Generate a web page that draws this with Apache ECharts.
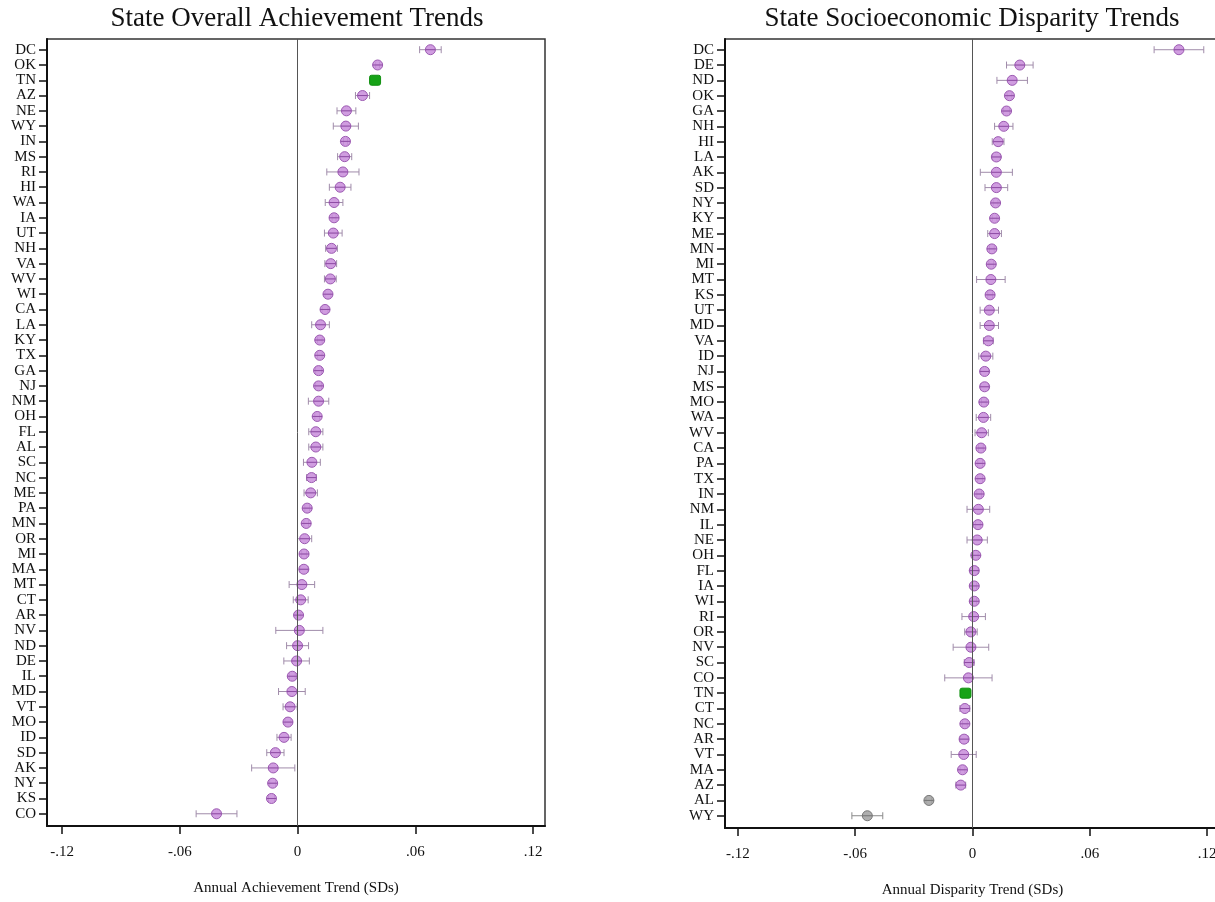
<!DOCTYPE html>
<html>
<head>
<meta charset="utf-8">
<script src="https://cdn.jsdelivr.net/npm/echarts@6/dist/echarts.min.js"></script>
<style>
html,body{margin:0;padding:0;background:#fff;overflow:hidden;}
#chart{width:1215px;height:902px;}
</style>
</head>
<body>
<div id="chart"></div>
<script>
// ---- Panel 1: State Overall Achievement Trends ----
const states1 = ['DC','OK','TN','AZ','NE','WY','IN','MS','RI','HI','WA','IA','UT','NH','VA','WV','WI','CA','LA','KY','TX','GA','NJ','NM','OH','FL','AL','SC','NC','ME','PA','MN','OR','MI','MA','MT','CT','AR','NV','ND','DE','IL','MD','VT','MO','ID','SD','AK','NY','KS','CO'];
const trend1 = [0.0677,0.0408,0.0395,0.0331,0.0249,0.0246,0.0244,0.0240,0.0231,0.0217,0.0186,0.0186,0.0182,0.0173,0.0169,0.0167,0.0155,0.0140,0.0117,0.0113,0.0113,0.0107,0.0107,0.0107,0.0100,0.0093,0.0093,0.0073,0.0071,0.0067,0.0049,0.0044,0.0036,0.0033,0.0032,0.0022,0.0016,0.0005,0.0009,0.0000,-0.0005,-0.0027,-0.0029,-0.0038,-0.0049,-0.0069,-0.0113,-0.0124,-0.0127,-0.0133,-0.0413];
const err1 = [0.0055,0.0010,0.0012,0.0036,0.0048,0.0064,0.0010,0.0036,0.0082,0.0055,0.0045,0.0010,0.0045,0.0030,0.0030,0.0030,0.0015,0.0015,0.0045,0.0012,0.0012,0.0015,0.0015,0.0052,0.0012,0.0036,0.0036,0.0043,0.0025,0.0034,0.0012,0.0012,0.0036,0.0012,0.0020,0.0065,0.0038,0.0012,0.0120,0.0056,0.0065,0.0015,0.0068,0.0036,0.0015,0.0036,0.0044,0.0110,0.0015,0.0015,0.0104];

// ---- Panel 2: State Socioeconomic Disparity Trends ----
const states2 = ['DC','DE','ND','OK','GA','NH','HI','LA','AK','SD','NY','KY','ME','MN','MI','MT','KS','UT','MD','VA','ID','NJ','MS','MO','WA','WV','CA','PA','TX','IN','NM','IL','NE','OH','FL','IA','WI','RI','OR','NV','SC','CO','TN','CT','NC','AR','VT','MA','AZ','AL','WY'];
const trend2 = [0.1056,0.0242,0.0203,0.0189,0.0174,0.0160,0.0131,0.0122,0.0122,0.0122,0.0118,0.0113,0.0113,0.0099,0.0096,0.0094,0.0090,0.0086,0.0086,0.0081,0.0068,0.0062,0.0062,0.0058,0.0056,0.0047,0.0043,0.0039,0.0039,0.0034,0.0030,0.0028,0.0024,0.0017,0.0009,0.0009,0.0009,0.0006,-0.0008,-0.0008,-0.0017,-0.0021,-0.0036,-0.0039,-0.0039,-0.0043,-0.0045,-0.0051,-0.0060,-0.0223,-0.0538];
const err2 = [0.0127,0.0068,0.0078,0.0012,0.0015,0.0047,0.0030,0.0020,0.0082,0.0058,0.0012,0.0012,0.0035,0.0012,0.0012,0.0073,0.0012,0.0047,0.0047,0.0025,0.0036,0.0020,0.0020,0.0012,0.0037,0.0034,0.0012,0.0012,0.0012,0.0012,0.0058,0.0012,0.0052,0.0012,0.0020,0.0012,0.0012,0.0060,0.0032,0.0091,0.0025,0.0121,0.0012,0.0025,0.0012,0.0020,0.0064,0.0012,0.0025,0.0015,0.0079];

const highlightStates = ['TN'];
const grayStates2 = ['AL','WY'];
const xTicks = [-0.12, -0.06, 0, 0.06, 0.12];
const xTickLabels = ['-.12', '-.06', '0', '.06', '.12'];
const titles = ['State Overall Achievement Trends', 'State Socioeconomic Disparity Trends'];
const xNames = ['Annual Achievement Trend (SDs)', 'Annual Disparity Trend (SDs)'];

const SERIF = '"Liberation Serif", "DejaVu Serif", serif';

function buildData(states, trend, err, grays) {
  return states.map((s, i) => [trend[i], i, err[i],
    highlightStates.includes(s) ? 1 : (grays.includes(s) ? 2 : 0)]);
}

function renderItem(params, api) {
  const x = api.value(0), y = api.value(1), e = api.value(2), kind = api.value(3);
  const p = api.coord([x, y]);
  const lo = api.coord([x - e, y]);
  const hi = api.coord([x + e, y]);
  const whisker = kind === 2 ? '#8a8a8a' : '#a08caa';
  const children = [
    {type: 'line', shape: {x1: lo[0], y1: p[1], x2: hi[0], y2: p[1]}, style: {stroke: whisker, lineWidth: 1}},
    {type: 'line', shape: {x1: lo[0], y1: p[1] - 3.5, x2: lo[0], y2: p[1] + 3.5}, style: {stroke: whisker, lineWidth: 1}},
    {type: 'line', shape: {x1: hi[0], y1: p[1] - 3.5, x2: hi[0], y2: p[1] + 3.5}, style: {stroke: whisker, lineWidth: 1}}
  ];
  if (kind === 1) {
    children.push({type: 'rect', shape: {x: p[0] - 5.5, y: p[1] - 5, width: 11, height: 10, r: 2},
      style: {fill: '#17a317', stroke: '#0f8f0f', lineWidth: 1}});
  } else if (kind === 2) {
    children.push({type: 'circle', shape: {cx: p[0], cy: p[1], r: 5},
      style: {fill: 'rgba(160,160,160,0.85)', stroke: '#777', lineWidth: 1}});
    children.push({type: 'line', shape: {x1: p[0] - 5, y1: p[1], x2: p[0] + 5, y2: p[1]}, style: {stroke: '#777', lineWidth: 1}});
  } else {
    children.push({type: 'circle', shape: {cx: p[0], cy: p[1], r: 5},
      style: {fill: 'rgba(200,140,218,0.85)', stroke: '#9c5ab2', lineWidth: 1}});
    children.push({type: 'line', shape: {x1: p[0] - 5, y1: p[1], x2: p[0] + 5, y2: p[1]}, style: {stroke: '#8e4ca4', lineWidth: 1}});
  }
  return {type: 'group', children};
}

const idxValues = states1.map((s, i) => i);

function yAxisFor(gridIndex, states) {
  return {
    type: 'value', gridIndex, inverse: true, min: -0.7, max: 50.8,
    axisLine: {show: true, onZero: false, lineStyle: {color: '#111', width: 2}},
    axisTick: {show: true, length: 8, lineStyle: {color: '#111', width: 1.5}, customValues: idxValues},
    axisLabel: {show: true, margin: 11, fontFamily: SERIF, fontSize: 15, color: '#111',
      customValues: idxValues, formatter: v => states[Math.round(v)] || ''},
    splitLine: {show: false}
  };
}

function xAxisFor(gridIndex, min, max, name) {
  return {
    type: 'value', gridIndex, min, max,
    name, nameLocation: 'middle', nameGap: 55,
    nameTextStyle: {fontFamily: SERIF, fontSize: 15, color: '#111'},
    axisLine: {show: true, onZero: false, lineStyle: {color: '#111', width: 2}},
    axisTick: {show: true, length: 8, lineStyle: {color: '#111', width: 1.5}, customValues: xTicks},
    axisLabel: {show: true, margin: 19, fontFamily: SERIF, fontSize: 15, color: '#111',
      hideOverlap: false, customValues: xTicks,
      formatter: v => xTickLabels[xTicks.findIndex(t => Math.abs(t - v) < 1e-9)] || ''},
    splitLine: {show: false}
  };
}

function seriesFor(idx, states, trend, err, grays) {
  return {
    type: 'custom', xAxisIndex: idx, yAxisIndex: idx,
    data: buildData(states, trend, err, grays),
    encode: {x: 0, y: 1},
    renderItem, clip: false, silent: true,
    markLine: {silent: true, symbol: 'none', label: {show: false},
      lineStyle: {color: '#555', width: 1, type: 'solid'},
      data: [{xAxis: 0}]}
  };
}

const chart = echarts.init(document.getElementById('chart'), null, {renderer: 'canvas'});
chart.setOption({
  animation: false,
  backgroundColor: '#fff',
  title: [
    {text: titles[0], left: 297, top: 5, padding: 0, textAlign: 'center',
      textStyle: {fontFamily: SERIF, fontSize: 27, fontWeight: 'normal', color: '#111'}},
    {text: titles[1], left: 972, top: 5, padding: 0, textAlign: 'center',
      textStyle: {fontFamily: SERIF, fontSize: 27, fontWeight: 'normal', color: '#111'}}
  ],
  grid: [
    {left: 47, width: 498, top: 39, bottom: 76, show: true, borderColor: '#333', borderWidth: 1.5,
      containLabel: false, outerBoundsMode: 'none'},
    {left: 725, width: 495, top: 39, bottom: 74, show: true, borderColor: '#333', borderWidth: 1.5,
      containLabel: false, outerBoundsMode: 'none'}
  ],
  xAxis: [xAxisFor(0, -0.1277, 0.1261, xNames[0]), xAxisFor(1, -0.1266, 0.1266, xNames[1])],
  yAxis: [yAxisFor(0, states1), yAxisFor(1, states2)],
  series: [seriesFor(0, states1, trend1, err1, []), seriesFor(1, states2, trend2, err2, grayStates2)]
});
</script>
</body>
</html>
